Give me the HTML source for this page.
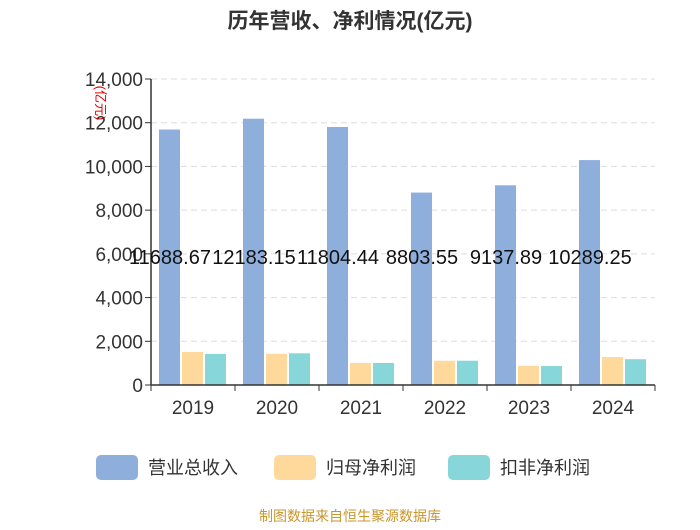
<!DOCTYPE html>
<html><head><meta charset="utf-8"><style>
body{margin:0;background:#fff;font-family:"Liberation Sans","Noto Sans CJK SC",sans-serif}
</style></head><body>
<svg id="c" width="700" height="525" font-family="Liberation Sans, Noto Sans CJK SC, sans-serif">
<text x="350" y="28" text-anchor="middle" font-size="21" font-weight="bold" fill="#333">历年营收、净利情况(亿元)</text>
<text x="96" y="103" font-size="13" fill="#e00" transform="rotate(90 96 103)" text-anchor="middle">(亿元)</text>
<g id="grid"></g><g id="bars"></g><g id="axes"></g>
<g>
<rect x="96" y="455" width="42" height="25" rx="5" fill="#8eaedc"/>
<text x="148" y="474" font-size="18" fill="#333">营业总收入</text>
<rect x="274" y="455" width="42" height="25" rx="5" fill="#fed99b"/>
<text x="326" y="474" font-size="18" fill="#333">归母净利润</text>
<rect x="448" y="455" width="42" height="25" rx="5" fill="#86d6da"/>
<text x="500" y="474" font-size="18" fill="#333">扣非净利润</text>
</g>
<text x="350" y="521" text-anchor="middle" font-size="14" fill="#c8962c">制图数据来自恒生聚源数据库</text>
</svg>
<script>
const categories=["2019","2020","2021","2022","2023","2024"];
const revenue=[11688.67,12183.15,11804.44,8803.55,9137.89,10289.25];
const netProfit=[1510,1430,1010,1110,870,1280];
const deductedProfit=[1420,1450,1010,1110,870,1180];
const yTicks=[0,2000,4000,6000,8000,10000,12000,14000];
const NS="http://www.w3.org/2000/svg";
const x0=151,x1=655,y0=385,yTop=79,yMax=14000;
const bw=(x1-x0)/categories.length;
const Y=v=>y0-v/yMax*(y0-yTop);
function mk(t,a,p){const e=document.createElementNS(NS,t);for(const k in a)e.setAttribute(k,a[k]);p.appendChild(e);return e;}
const grid=document.getElementById('grid'),bars=document.getElementById('bars'),axes=document.getElementById('axes');
yTicks.forEach(v=>{
 if(v>0){const l=mk('line',{x1:x0,x2:x1,y1:Y(v),y2:Y(v),stroke:'#ddd','stroke-dasharray':'6,4'},grid);
 
 }
 mk('line',{x1:x0-6,x2:x0,y1:Y(v),y2:Y(v),stroke:'#333'},axes);
 const t=mk('text',{x:x0-8,y:Y(v)+7,'text-anchor':'end','font-size':19,fill:'#333'},axes);
 t.textContent=v.toLocaleString('en-US');
 
 
});
mk('line',{x1:x0,x2:x0,y1:yTop,y2:y0,stroke:'#333','stroke-width':1.5},axes);
mk('line',{x1:x0,x2:x1,y1:y0,y2:y0,stroke:'#333','stroke-width':1.5},axes);
const series=[[revenue,'#8eaedc','bar-revenue'],[netProfit,'#fed99b','bar-net-profit'],[deductedProfit,'#86d6da','bar-deducted-profit']];
categories.forEach((c,i)=>{
 const cx=x0+bw*i;
 mk('line',{x1:cx,x2:cx,y1:y0,y2:y0+6,stroke:'#333'},axes);
 if(i==categories.length-1)mk('line',{x1:x1,x2:x1,y1:y0,y2:y0+6,stroke:'#333'},axes);
 series.forEach((s,j)=>{
  const bx=cx+8+j*23;
  const r=mk('rect',{x:bx,y:Y(s[0][i]),width:21,height:y0-Y(s[0][i]),fill:s[1]},bars);
  
  
 });
 const t=mk('text',{x:cx+bw/2,y:y0+29,'text-anchor':'middle','font-size':19,fill:'#333'},axes);
 t.textContent=c;
 
 
 const v=mk('text',{x:cx+19,y:264,'text-anchor':'middle','font-size':20,fill:'#111'},axes);
 v.textContent=revenue[i].toFixed(2);
 
 
});
</script>
</body></html>
